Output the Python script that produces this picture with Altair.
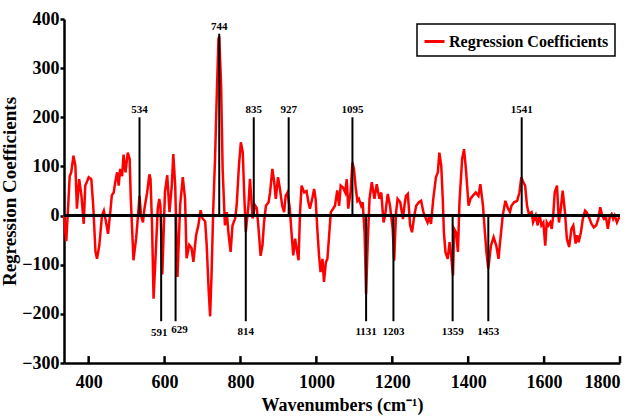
import altair as alt
import pandas as pd

# Regression coefficient spectrum (wavenumber in cm^-1, coefficient)
wavenumbers = [
    335, 338, 341, 346, 350, 354, 360, 365, 369, 375, 381, 387, 391, 396, 400,
    407, 412, 418, 422, 428, 435, 440, 446, 451, 457, 461, 466, 470, 475, 479,
    483, 488, 492, 497, 503, 508, 511, 516, 518, 525, 530, 534, 538, 543, 547,
    554, 560, 563, 567, 571, 576, 582, 586, 589, 594, 601, 607, 613, 619, 623,
    628, 634, 641, 648, 654, 658, 665, 671, 676, 683, 689, 695, 700, 707, 711,
    716, 720, 724, 728, 733, 737, 742, 744, 749, 753, 759, 764, 768, 774, 779,
    786, 790, 796, 801, 806, 810, 814, 821, 825, 832, 838, 843, 848, 853, 858,
    862, 867, 874, 878, 884, 889, 893, 899, 904, 910, 915, 919, 924, 930, 935,
    939, 944, 948, 953, 957, 961, 968, 974, 979, 983, 989, 994, 998, 1003, 1007,
    1011, 1016, 1020, 1025, 1029, 1033, 1038, 1044, 1049, 1055, 1060, 1064, 1070, 1076, 1080,
    1084, 1090, 1095, 1099, 1104, 1108, 1112, 1118, 1122, 1127, 1131, 1135, 1140, 1146, 1153,
    1159, 1166, 1171, 1177, 1181, 1188, 1194, 1201, 1205, 1210, 1214, 1221, 1228, 1232, 1236,
    1241, 1247, 1252, 1258, 1263, 1270, 1276, 1282, 1289, 1293, 1298, 1302, 1308, 1315, 1320,
    1324, 1329, 1333, 1336, 1340, 1346, 1351, 1355, 1360, 1363, 1368, 1373, 1377, 1384, 1389,
    1394, 1401, 1406, 1412, 1420, 1427, 1432, 1439, 1444, 1448, 1453, 1460, 1467, 1474, 1480,
    1484, 1491, 1498, 1505, 1510, 1514, 1521, 1529, 1535, 1540, 1545, 1550, 1555, 1560, 1567,
    1571, 1578, 1583, 1588, 1593, 1598, 1603, 1607, 1611, 1616, 1620, 1624, 1628, 1634, 1639,
    1643, 1649, 1655, 1660, 1666, 1672, 1677, 1683, 1687, 1691, 1697, 1702, 1708, 1712, 1718,
    1725, 1731, 1737, 1743, 1748, 1753, 1758, 1763, 1768, 1773, 1778, 1782, 1786, 1792, 1798,
]
coefficients = [
    0, -30, -52, 20, 80, 88, 122, 101, 14, 74, 40, -17, 61, 70, 78,
    74, 20, -74, -88, -61, 0, 10, -14, -37, 7, 41, 47, 68, 88, 61,
    95, 80, 124, 88, 128, 115, 34, -54, -91, -47, 0, 40, 0, -14, 14,
    47, 84, 74, -20, -169, -88, 14, 34, 20, -120, 48, 82, 7, 61, 125,
    61, -125, 21, 78, 34, -87, -60, -66, -94, -40, -20, 11, -6, -12, -60,
    -150, -205, -114, 7, 116, 230, 359, 365, 264, 95, -20, 7, -33, -74, -20,
    -6, 21, 102, 149, 129, 41, -33, 21, 75, -6, 21, 15, -30, -82, -60,
    -15, 20, 27, 47, 95, 68, 34, 78, 54, 20, 7, 40, 47, 14, -40,
    -81, -47, -68, -91, 7, 61, 47, 50, 27, 14, 34, 54, 34, -34, -81,
    -115, -88, -135, -95, -88, -47, 7, 14, 20, 51, 20, 61, 57, 47, 74,
    14, 47, 108, 95, 54, 30, 34, 20, 27, -34, -160, -61, 34, 68, 34,
    64, 34, 47, -14, 0, 44, 20, -27, -92, 7, 34, 27, -7, 20, 40,
    44, -20, -34, 0, 20, 27, 30, 7, -7, -14, 0, -17, 34, 78, 88,
    128, 101, 34, -34, -74, -88, -54, -81, -122, -27, -34, -74, 27, 115, 135,
    95, 20, 34, 40, 47, 40, 64, 20, -34, -74, -108, -61, -44, -61, -88,
    -54, 0, 30, 14, 7, 20, 27, 30, 47, 78, 68, 61, 20, 3, 7,
    -14, 0, -20, 3, -20, -14, -61, -14, -20, -14, -27, 0, 47, 61, -14,
    7, 51, 7, -47, -64, -27, -20, -57, -40, -54, -34, -7, 10, 7, -3,
    -17, -24, -20, -7, 17, 0, -7, -3, -27, -3, 3, -7, 0, -14, -3,
]

# Marked bands and the length of their marker lines
peak_wavenumbers = [534, 591, 629, 744, 814, 835, 927, 1095, 1131, 1203, 1359, 1453, 1541]
peak_marker_ends = [200, -215, -215, 370, -215, 200, 200, 200, -215, -215, -215, -215, 200]

x_ticks = [400, 600, 800, 1000, 1200, 1400, 1600, 1800]
y_ticks = [-300, -200, -100, 0, 100, 200, 300, 400]

series_name = "Regression Coefficients"
serif = "Liberation Serif"

spectrum = pd.DataFrame({"wn": wavenumbers, "coef": coefficients, "series": series_name})
peaks = pd.DataFrame({"wn": peak_wavenumbers, "end": peak_marker_ends, "base": 0})
peaks["label"] = peaks["wn"].astype(str)
ticks = pd.DataFrame({"wn": x_ticks, "lo": -300, "hi": -286})

x_scale = alt.Scale(domain=[335, 1800], nice=False, zero=False)
y_scale = alt.Scale(domain=[-300, 400], nice=False)

x_axis = alt.Axis(
    values=x_ticks, format="d", ticks=False, grid=False, title="Wavenumbers (cm⁻¹)",
    domainColor="black", domainWidth=2.5, labelPadding=10,
    labelFont=serif, labelFontWeight="bold", labelFontSize=18, labelColor="black",
    titleFont=serif, titleFontWeight="bold", titleFontSize=18, titleColor="black",
    titlePadding=5,
)
y_axis = alt.Axis(
    values=y_ticks, format="d", grid=False, title="Regression Coefficients",
    domainColor="black", domainWidth=2.5, tickColor="black", tickWidth=2.5, tickSize=4,
    labelPadding=1, labelFont=serif, labelFontWeight="bold", labelFontSize=18,
    labelColor="black", titleFont=serif, titleFontWeight="bold", titleFontSize=19,
    titleColor="black", titlePadding=2,
)

X = alt.X("wn:Q", scale=x_scale, axis=x_axis)

line = alt.Chart(spectrum).mark_line(strokeWidth=2.5).encode(
    x=X,
    y=alt.Y("coef:Q", scale=y_scale, axis=y_axis),
    color=alt.Color(
        "series:N",
        scale=alt.Scale(range=["#ff0000"]),
        legend=alt.Legend(
            title=None, orient="none", legendX=353, legendY=5,
            symbolType="stroke", symbolStrokeWidth=3, symbolSize=400,
            labelFont=serif, labelFontWeight="bold", labelFontSize=16,
            labelColor="black", labelLimit=0, labelOffset=3, padding=6,
            strokeColor="black", fillColor="white",
        ),
    ),
)

zero_line = alt.Chart(spectrum).mark_rule(color="black", strokeWidth=2.5).encode(
    y=alt.datum(0)
)

markers = alt.Chart(peaks).mark_rule(color="black", strokeWidth=2).encode(
    x=X,
    y=alt.Y("base:Q", scale=y_scale, axis=y_axis),
    y2="end:Q",
)

label_style = dict(font=serif, fontWeight="bold", fontSize=11, color="black")
Y_END = alt.Y("end:Q", scale=y_scale, axis=y_axis)

labels_up = alt.Chart(peaks).transform_filter("datum.end > 0").mark_text(
    baseline="bottom", dy=-2, **label_style
).encode(x=X, y=Y_END, text="label:N")

# the two close bands below the axis are nudged apart so their labels sit side by side
labels_down = alt.Chart(peaks).transform_filter(
    "datum.end < 0 && datum.wn != 591 && datum.wn != 629"
).mark_text(baseline="top", dy=5, **label_style).encode(x=X, y=Y_END, text="label:N")
label_591 = alt.Chart(peaks).transform_filter("datum.wn == 591").mark_text(
    baseline="top", dy=6, dx=-2, **label_style
).encode(x=X, y=Y_END, text="label:N")
label_629 = alt.Chart(peaks).transform_filter("datum.wn == 629").mark_text(
    baseline="top", dy=3, dx=4, **label_style
).encode(x=X, y=Y_END, text="label:N")

bottom_ticks = alt.Chart(ticks).mark_rule(color="black", strokeWidth=2.5).encode(
    x=X,
    y=alt.Y("lo:Q", scale=y_scale, axis=y_axis),
    y2="hi:Q",
)

chart = (
    alt.layer(line, zero_line, markers, labels_up, labels_down, label_591, label_629,
              bottom_ticks)
    .properties(
        width=556, height=344, autosize="none",
        padding={"left": 64, "top": 19, "right": 16, "bottom": 56},
        background="white",
    )
    .configure_view(stroke=None)
    .configure_legend(strokeWidth=1.5)
)

chart.save("out.html", embed_options={"renderer": "svg", "actions": False})
